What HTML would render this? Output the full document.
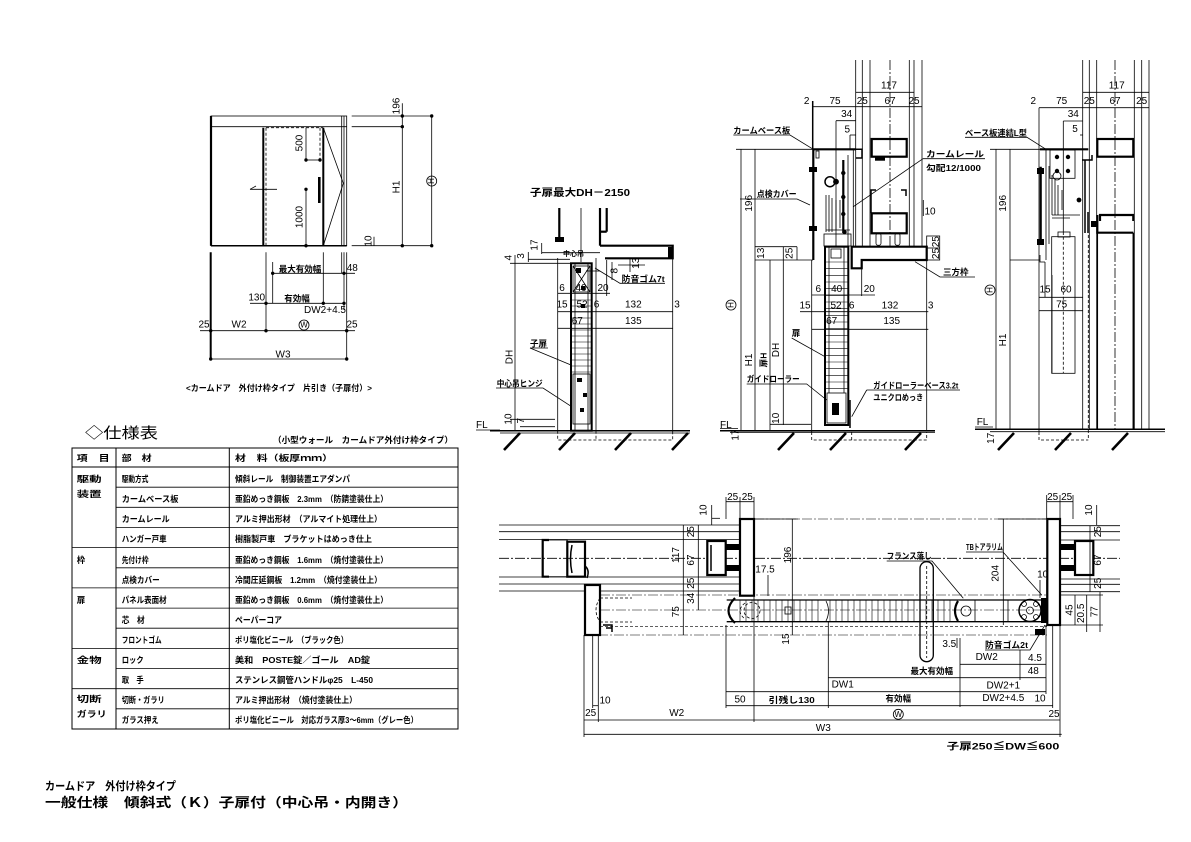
<!DOCTYPE html>
<html><head><meta charset="utf-8">
<style>
html,body{margin:0;padding:0;background:#fff;}
svg{display:block;}
text{font-family:"Liberation Sans","Noto Sans CJK JP",sans-serif;fill:#000;stroke:none;}
.n{font-size:10px;}
.j{font-size:8.5px;font-weight:bold;}
.c{text-anchor:middle;dominant-baseline:central;}
.k{stroke-width:2.2;}
.m{stroke-width:1.5;}
.d{stroke-dasharray:3,2;}
.dd{stroke-dasharray:10,2,2,2;}
.s{stroke-width:2.6;}
</style></head><body>
<svg width="1191" height="842" viewBox="0 0 1191 842" xmlns="http://www.w3.org/2000/svg">
<g stroke="#000" stroke-width="0.8" fill="none">

<!-- ===== Top-left elevation ===== -->
<rect x="211" y="116" width="135.7" height="129.7"/>
<line x1="211" y1="126.7" x2="346.7" y2="126.7"/>
<line x1="341.7" y1="116" x2="341.7" y2="245.7"/>
<line x1="344" y1="116" x2="344" y2="245.7"/>
<polyline points="323.3,127.7 343.3,183.3 323.3,245.7"/>
<line class="d" x1="266" y1="127.7" x2="266" y2="245.7"/>
<line class="d" x1="266" y1="127.7" x2="323" y2="127.7"/>
<line class="d" x1="320" y1="127.7" x2="320" y2="160"/>
<line x1="306" y1="160" x2="320" y2="160"/>
<line x1="306" y1="127.7" x2="306" y2="160"/>
<line x1="306" y1="189.3" x2="306" y2="245.7"/>
<line x1="250" y1="189.3" x2="277" y2="189.3"/>
<polyline points="256,186 250,189.3"/>
<line class="k" x1="211" y1="116" x2="211" y2="245.7"/>
<line x1="263.3" y1="127.7" x2="263.3" y2="245.7" stroke-width="2"/>
<line x1="323.3" y1="127.7" x2="323.3" y2="245.7" stroke-width="2"/>
<line class="s" x1="319.3" y1="177" x2="319.3" y2="203"/>
<line class="m" x1="211" y1="245.7" x2="346.7" y2="245.7"/>
<line x1="351.7" y1="116" x2="431.7" y2="116"/>
<line x1="351.7" y1="126.7" x2="402.3" y2="126.7"/>
<line x1="351.7" y1="245.7" x2="431.7" y2="245.7"/>
<line x1="402.3" y1="103.3" x2="402.3" y2="245.7"/>
<line x1="431.7" y1="116" x2="431.7" y2="245.7"/>
<line x1="374" y1="236.7" x2="374" y2="245.7"/>
<line x1="210.7" y1="252.3" x2="210.7" y2="359" stroke-width="2"/>
<line x1="266" y1="252.3" x2="266" y2="331"/>
<line x1="272.7" y1="262" x2="272.7" y2="303.3"/>
<line x1="323.3" y1="252.3" x2="323.3" y2="303.3"/>
<line x1="341.7" y1="252.3" x2="341.7" y2="273.3"/>
<line x1="344" y1="252.3" x2="344" y2="310"/>
<line x1="346.7" y1="252.3" x2="346.7" y2="359"/>
<line x1="272.7" y1="273.3" x2="355" y2="273.3"/>
<line x1="250" y1="303.3" x2="344" y2="303.3"/>
<line x1="200" y1="330.7" x2="355" y2="330.7"/>
<line x1="210.7" y1="359" x2="346.7" y2="359"/>
<circle cx="402.3" cy="116" r="1.3" fill="#000"/><circle cx="402.3" cy="126.7" r="1.3" fill="#000"/><circle cx="402.3" cy="245.7" r="1.3" fill="#000"/>
<circle cx="431.7" cy="116" r="1.3" fill="#000"/><circle cx="431.7" cy="245.7" r="1.3" fill="#000"/>
<circle cx="306" cy="160" r="1.3" fill="#000"/><circle cx="320" cy="160" r="1.3" fill="#000"/><circle cx="306" cy="189.3" r="1.3" fill="#000"/><circle cx="306" cy="245.7" r="1.3" fill="#000"/>
<circle cx="272.7" cy="273.3" r="1.3" fill="#000"/><circle cx="344" cy="273.3" r="1.3" fill="#000"/>
<circle cx="266" cy="303.3" r="1.3" fill="#000"/><circle cx="323.3" cy="303.3" r="1.3" fill="#000"/><circle cx="344" cy="303.3" r="1.3" fill="#000"/>
<circle cx="210.7" cy="330.7" r="1.3" fill="#000"/><circle cx="266" cy="330.7" r="1.3" fill="#000"/><circle cx="346.7" cy="330.7" r="1.3" fill="#000"/>
<circle cx="210.7" cy="359" r="1.3" fill="#000"/><circle cx="346.7" cy="359" r="1.3" fill="#000"/>
<circle cx="431.7" cy="181" r="5"/>
<circle cx="304" cy="325" r="5"/>

<!-- ===== Spec table ===== -->
<rect x="72" y="448" width="386" height="281" stroke-width="1"/>
<line x1="116" y1="448" x2="116" y2="729" stroke-width="1"/>
<line x1="229.3" y1="448" x2="229.3" y2="729" stroke-width="1"/>
<line x1="72" y1="467" x2="458" y2="467" stroke-width="1"/>
<line x1="116" y1="487.2" x2="458" y2="487.2"/>
<line x1="116" y1="507.3" x2="458" y2="507.3"/>
<line x1="116" y1="527.5" x2="458" y2="527.5"/>
<line x1="72" y1="547.6" x2="458" y2="547.6"/>
<line x1="116" y1="567.8" x2="458" y2="567.8"/>
<line x1="72" y1="587.9" x2="458" y2="587.9"/>
<line x1="116" y1="608.1" x2="458" y2="608.1"/>
<line x1="116" y1="628.2" x2="458" y2="628.2"/>
<line x1="72" y1="648.4" x2="458" y2="648.4"/>
<line x1="116" y1="668.5" x2="458" y2="668.5"/>
<line x1="72" y1="688.7" x2="458" y2="688.7"/>
<line x1="116" y1="708.8" x2="458" y2="708.8"/>

<!-- ===== Middle section 1 ===== -->
<line class="k" x1="559.3" y1="208" x2="559.3" y2="241.7"/>
<line x1="581" y1="208" x2="581" y2="262"/>
<line class="k" x1="600" y1="208" x2="600" y2="245.7"/>
<line class="k" x1="606.7" y1="208" x2="606.7" y2="231.7"/>
<line class="k" x1="600" y1="231.7" x2="606.7" y2="231.7"/>
<path class="k" d="M600,245.7 H672.7 V258.3 H605"/>
<rect x="668" y="247" width="4.7" height="11" fill="#000" stroke="none"/>
<rect x="555" y="237" width="9" height="5" fill="#000" stroke="none"/>
<line x1="515" y1="255" x2="515" y2="431"/>
<line x1="528.3" y1="252" x2="528.3" y2="262"/>
<line x1="541.7" y1="243" x2="541.7" y2="254"/>
<line x1="541.7" y1="252.7" x2="600" y2="252.7"/>
<line x1="528.3" y1="259.3" x2="570" y2="259.3"/>
<line x1="510" y1="263.3" x2="572" y2="263.3"/>
<line x1="510" y1="419.3" x2="555" y2="419.3"/>
<line x1="520" y1="426.7" x2="555" y2="426.7"/>
<line x1="557.7" y1="293.3" x2="610" y2="293.3"/>
<line x1="557.7" y1="311.7" x2="672.7" y2="311.7"/>
<line x1="557.7" y1="328.3" x2="672.7" y2="328.3"/>
<line x1="557.7" y1="258" x2="557.7" y2="430.7"/>
<line x1="596" y1="258" x2="596" y2="430.7"/>
<line x1="672.7" y1="258.3" x2="672.7" y2="430.7"/>
<line x1="606.7" y1="260" x2="606.7" y2="296"/>
<line x1="612" y1="262" x2="612" y2="280"/>
<line x1="618" y1="265" x2="645" y2="265"/>
<line x1="630" y1="258" x2="630" y2="272"/>
<path class="d" d="M557.7,430.7 V440 H672.7 V430.7 M596,430.7 V440"/>
<rect x="571" y="263.3" width="20.7" height="167.4" stroke-width="2"/>
<line x1="575" y1="263.3" x2="575" y2="430"/>
<line x1="588" y1="263.3" x2="588" y2="430"/>
<rect x="573" y="266" width="17" height="26"/>
<path d="M573,266 L590,292 M590,266 L573,292"/>
<g stroke-width="0.6">
<line x1="571" y1="300" x2="591.7" y2="300"/><line x1="571" y1="306" x2="591.7" y2="306"/><line x1="571" y1="312" x2="591.7" y2="312"/><line x1="571" y1="318" x2="591.7" y2="318"/><line x1="571" y1="324" x2="591.7" y2="324"/><line x1="571" y1="330" x2="591.7" y2="330"/><line x1="571" y1="336" x2="591.7" y2="336"/><line x1="571" y1="342" x2="591.7" y2="342"/><line x1="571" y1="348" x2="591.7" y2="348"/><line x1="571" y1="354" x2="591.7" y2="354"/><line x1="571" y1="360" x2="591.7" y2="360"/><line x1="571" y1="366" x2="591.7" y2="366"/><line x1="571" y1="372" x2="591.7" y2="372"/>
</g>
<rect x="573" y="374" width="17" height="50"/>
<rect x="576" y="268" width="5" height="5" fill="#000" stroke="none"/>
<rect x="581" y="286" width="4" height="4" fill="#000" stroke="none"/>
<rect x="581" y="304" width="4" height="4" fill="#000" stroke="none"/>
<rect x="577" y="378" width="5" height="4" fill="#000" stroke="none"/>
<rect x="583" y="393" width="4" height="4" fill="#000" stroke="none"/>
<rect x="580" y="408" width="4" height="4" fill="#000" stroke="none"/>
<line x1="586" y1="271" x2="600" y2="271"/>
<polyline points="595,268 620,283.3 665,283.3"/>
<polyline points="530,348 571,365"/>
<polyline points="496,388 543,388 571.7,406.7"/>
<polyline points="530,348 548,348"/>
<line class="m" x1="490" y1="430.7" x2="690" y2="430.7"/>
<line x1="500" y1="433" x2="690" y2="433"/>
<line x1="476" y1="430" x2="500" y2="430"/>
<line class="s" x1="520" y1="433" x2="504" y2="450"/>
<line class="s" x1="575" y1="433" x2="559" y2="450"/>
<line class="s" x1="631" y1="433" x2="615" y2="450"/>
<line class="s" x1="688" y1="433" x2="672" y2="450"/>

<!-- ===== Middle section 2 ===== -->
<line x1="855.7" y1="60" x2="855.7" y2="246.7"/>
<line x1="862.3" y1="60" x2="862.3" y2="246.7"/>
<line x1="870" y1="60" x2="870" y2="246.7"/>
<line class="dd" x1="890" y1="60" x2="890" y2="246.7"/>
<line x1="909.3" y1="60" x2="909.3" y2="246.7"/>
<line x1="914" y1="60" x2="914" y2="246.7"/>
<line x1="922" y1="60" x2="922" y2="246.7"/>
<line x1="855.7" y1="92.3" x2="914" y2="92.3"/>
<line x1="812.7" y1="106.7" x2="922" y2="106.7"/>
<line x1="836" y1="120.7" x2="855.7" y2="120.7"/>
<line x1="850" y1="135" x2="855.7" y2="135"/>
<line class="m" x1="812.7" y1="101" x2="812.7" y2="149.3"/>
<line x1="836" y1="120.7" x2="836" y2="246.7"/>
<line x1="850" y1="135" x2="850" y2="149"/>
<line class="k" x1="813.3" y1="149.3" x2="855.7" y2="149.3"/>
<line class="k" x1="813.3" y1="149.3" x2="813.3" y2="260"/>
<line x1="811.7" y1="260" x2="811.7" y2="432"/>
<line class="k" x1="843.3" y1="160" x2="843.3" y2="233"/>
<line x1="853.3" y1="149" x2="853.3" y2="246"/>
<line x1="848" y1="155" x2="848" y2="246"/>
<path class="m" d="M855.7,149.3 H862 V158 H856"/>
<rect x="816" y="151" width="3" height="7"/>
<rect x="809" y="167" width="8" height="5" fill="#000" stroke="none"/>
<rect x="809" y="226" width="8" height="5" fill="#000" stroke="none"/>
<circle cx="830" cy="181.7" r="5" stroke-width="1.5"/>
<circle cx="836" cy="181.7" r="2.5" fill="#000"/>
<path d="M826,195 V232 M829,195 V232 M832,198 V232 M836,200 V230 M840,200 V228 M826,230 H850"/>
<rect x="824" y="234" width="27" height="12"/>
<circle cx="843.3" cy="173" r="1.8" fill="#000"/><circle cx="843.3" cy="197" r="1.8" fill="#000"/><circle cx="843.3" cy="214" r="1.8" fill="#000"/><circle cx="844.5" cy="232" r="1.8" fill="#000"/>
<rect class="k" x="871.7" y="139" width="35" height="17.7"/>
<rect class="k" x="871.7" y="213.3" width="35" height="20"/>
<path class="m" d="M876,190 H871 V213.3 M901,190 H906 V196"/>
<rect x="876" y="233.3" width="5" height="12" rx="2"/><rect x="895" y="233.3" width="5" height="12" rx="2"/>
<rect x="875" y="156.7" width="10" height="4" fill="#000" stroke="none"/>
<line x1="923.3" y1="200" x2="923.3" y2="216"/>
<path class="k" d="M851.7,246.7 H926.7 V260 H861.7 V268.3 H851.7 Z"/>
<rect x="926.7" y="236" width="13" height="24"/>
<line x1="926.7" y1="248" x2="939.7" y2="248"/>
<line x1="926.7" y1="260" x2="926.7" y2="430.7"/>
<line x1="861.7" y1="268.3" x2="861.7" y2="296"/>
<line x1="741" y1="149.3" x2="741" y2="430"/>
<line x1="755" y1="149.3" x2="755" y2="430"/>
<line x1="770" y1="260" x2="770" y2="430"/>
<line x1="783.3" y1="246.7" x2="783.3" y2="425"/>
<line x1="736" y1="149.3" x2="813.3" y2="149.3"/>
<line x1="755" y1="246.7" x2="797" y2="246.7"/>
<line x1="755" y1="260" x2="813" y2="260"/>
<line x1="797" y1="246.7" x2="797" y2="260"/>
<line x1="770" y1="424.3" x2="811" y2="424.3"/>
<line x1="811.7" y1="295" x2="875" y2="295"/>
<line x1="800" y1="311.7" x2="928.3" y2="311.7"/>
<line x1="811.7" y1="329.3" x2="928.3" y2="329.3"/>
<rect x="825" y="246.7" width="23.3" height="178.3" stroke-width="2"/>
<g stroke-width="0.6">
<line x1="825" y1="262" x2="848.3" y2="262"/><line x1="825" y1="268.7" x2="848.3" y2="268.7"/><line x1="825" y1="275.4" x2="848.3" y2="275.4"/><line x1="825" y1="282" x2="848.3" y2="282"/><line x1="825" y1="288.7" x2="848.3" y2="288.7"/><line x1="825" y1="295.4" x2="848.3" y2="295.4"/><line x1="825" y1="302" x2="848.3" y2="302"/><line x1="825" y1="308.7" x2="848.3" y2="308.7"/><line x1="825" y1="315.4" x2="848.3" y2="315.4"/><line x1="825" y1="322" x2="848.3" y2="322"/><line x1="825" y1="328.7" x2="848.3" y2="328.7"/><line x1="825" y1="335.4" x2="848.3" y2="335.4"/><line x1="825" y1="342" x2="848.3" y2="342"/><line x1="825" y1="348.7" x2="848.3" y2="348.7"/><line x1="825" y1="355.4" x2="848.3" y2="355.4"/><line x1="825" y1="362" x2="848.3" y2="362"/><line x1="825" y1="368.7" x2="848.3" y2="368.7"/><line x1="825" y1="375.4" x2="848.3" y2="375.4"/><line x1="825" y1="382" x2="848.3" y2="382"/><line x1="825" y1="388.7" x2="848.3" y2="388.7"/>
</g>
<line x1="829" y1="246.7" x2="829" y2="393"/>
<line x1="844" y1="246.7" x2="844" y2="393"/>
<rect x="827" y="393" width="19" height="30"/>
<rect x="832" y="403" width="7" height="12" fill="#000" stroke="none"/>
<line class="m" x1="850" y1="400" x2="850" y2="428"/>
<rect x="831" y="249" width="10" height="9"/>
<path d="M791.7,338 L825,356.7 M746.7,384 H806.7 L826.7,400 M866.7,390 H960 M866.7,390 L851.7,416.7 M733.3,135 H790 L813.3,149.3 M740,199 H797 L810,205 M923,158.7 H985 M923,158.7 L853.3,206.7 M915,261.7 L940,277 H975"/>
<line class="m" x1="720" y1="430.7" x2="935" y2="430.7"/>
<line x1="730" y1="432.3" x2="935" y2="432.3"/>
<line x1="720" y1="428.5" x2="738" y2="428.5"/>
<path class="d" d="M811.7,432 V440 H926.7 V432 M851.7,432 V440"/>
<line class="s" x1="794" y1="433" x2="778" y2="450"/>
<line class="s" x1="846" y1="433" x2="830" y2="450"/>
<line class="s" x1="921" y1="433" x2="905" y2="450"/>
<circle cx="731" cy="305" r="5"/>

<!-- ===== Right section ===== -->
<line x1="1082.7" y1="60" x2="1082.7" y2="430"/>
<line x1="1089.3" y1="60" x2="1089.3" y2="430"/>
<line x1="1096.7" y1="60" x2="1096.7" y2="430"/>
<line class="dd" x1="1115" y1="60" x2="1115" y2="430"/>
<line x1="1134.3" y1="60" x2="1134.3" y2="430"/>
<line x1="1141.7" y1="60" x2="1141.7" y2="430"/>
<line x1="1149" y1="60" x2="1149" y2="430"/>
<line x1="1082.7" y1="92.3" x2="1149" y2="92.3"/>
<line x1="1039" y1="107.7" x2="1149" y2="107.7"/>
<line x1="1063.3" y1="121" x2="1082.7" y2="121"/>
<line x1="1080" y1="135" x2="1082.7" y2="135"/>
<line x1="1063.3" y1="121" x2="1063.3" y2="235"/>
<line x1="1039" y1="107.7" x2="1039" y2="432"/>
<line x1="1046" y1="149" x2="1046" y2="260"/>
<line class="k" x1="1040" y1="149.3" x2="1088.3" y2="149.3"/>
<rect x="1050" y="150" width="25" height="28.3"/>
<circle cx="1057" cy="157" r="1.8" fill="#000"/><circle cx="1068" cy="157" r="1.8" fill="#000"/><circle cx="1057" cy="171" r="1.8" fill="#000"/><circle cx="1068" cy="171" r="1.8" fill="#000"/>
<line class="k" x1="1040.7" y1="166.7" x2="1040.7" y2="241.7"/>
<rect x="1037" y="168" width="7" height="6" fill="#000" stroke="none"/>
<rect x="1037" y="239" width="7" height="6" fill="#000" stroke="none"/>
<line x1="1049" y1="166" x2="1049" y2="244"/>
<path d="M1052,175 V215 M1055,180 V215 M1058,185 V215 M1062,190 V210 M1052,215 H1080 M1052,218 H1070"/>
<circle cx="1057" cy="176" r="4"/>
<rect x="1051.7" y="236.7" width="23.3" height="136.6"/>
<rect x="1058" y="232" width="12" height="5"/>
<line class="d" x1="1063.3" y1="236.7" x2="1063.3" y2="373"/>
<line class="m" x1="1085" y1="160" x2="1085" y2="233"/>
<path class="m" d="M1082,160 H1092 V155 M1088,212 V233"/>
<circle cx="1079" cy="200" r="2" fill="#000"/>
<rect class="k" x="1097.3" y="139" width="36" height="17.7"/>
<path class="k" d="M1100,221 V215 H1133.3 V221 M1097.3,215 V232.7 H1133.3"/>
<rect x="1091" y="221" width="6" height="6" fill="#000" stroke="none"/>
<line class="m" x1="1097.3" y1="232.7" x2="1097.3" y2="430"/>
<line class="m" x1="1133.3" y1="232.7" x2="1133.3" y2="430"/>
<line class="d" x1="1088.3" y1="235" x2="1088.3" y2="440"/>
<line x1="996" y1="149.3" x2="996" y2="430"/>
<line x1="1010" y1="149.3" x2="1010" y2="430"/>
<line x1="990" y1="149.3" x2="1040" y2="149.3"/>
<line x1="1010" y1="260" x2="1040" y2="260"/>
<path d="M1040,255 V262 H1045"/>
<line x1="1039" y1="297.3" x2="1082.7" y2="297.3"/>
<line x1="1039" y1="310.7" x2="1082.7" y2="310.7"/>
<line x1="1045" y1="262" x2="1045" y2="297"/>
<line x1="1052" y1="275" x2="1052" y2="373"/>
<path d="M965,137.3 H1027 L1046,149.3"/>
<line class="m" x1="975" y1="429.3" x2="1165" y2="429.3"/>
<line x1="990" y1="431.7" x2="1165" y2="431.7"/>
<line x1="975" y1="427" x2="993" y2="427"/>
<path class="d" d="M1039,432 V440 H1088.3"/>
<line class="s" x1="1014" y1="433" x2="998" y2="450"/>
<line class="s" x1="1071" y1="433" x2="1055" y2="450"/>
<line class="s" x1="1128" y1="433" x2="1112" y2="450"/>
<circle cx="990" cy="290" r="5"/>

<!-- ===== Bottom plan ===== -->
<line x1="499" y1="525" x2="740" y2="525"/>
<line x1="499" y1="531.7" x2="740" y2="531.7"/>
<line x1="499" y1="539.5" x2="740" y2="539.5"/>
<line x1="499" y1="577" x2="740" y2="577"/>
<line x1="499" y1="584" x2="740" y2="584"/>
<line x1="499" y1="591" x2="740" y2="591"/>
<line x1="1060" y1="525.7" x2="1120" y2="525.7"/>
<line x1="1060" y1="531.7" x2="1120" y2="531.7"/>
<line x1="1060" y1="540" x2="1120" y2="540"/>
<line x1="1060" y1="579" x2="1120" y2="579"/>
<line x1="1060" y1="584.3" x2="1120" y2="584.3"/>
<line x1="1060" y1="591.7" x2="1120" y2="591.7"/>
<line class="dd" x1="499" y1="558.3" x2="1120" y2="558.3"/>
<line class="dd" x1="754" y1="519" x2="1047" y2="519" stroke-width="0.6"/>
<line class="dd" x1="600" y1="595" x2="1047" y2="595" stroke-width="0.6"/>
<line class="dd" x1="600" y1="610" x2="1047" y2="610" stroke-width="0.6"/>
<line class="d" x1="600" y1="626.7" x2="1047" y2="626.7" stroke-width="0.6"/>
<line class="dd" x1="598" y1="635" x2="1047" y2="635" stroke-width="0.6"/>
<path class="k" d="M549,540 H542.7 V576.7 H549"/>
<rect x="542.7" y="540" width="24.6" height="36.7" stroke-width="0.8"/>
<rect class="k" x="567.3" y="541.7" width="17.7" height="35"/>
<path class="m" d="M572,545 Q569,559 572,573"/>
<path class="m" d="M585,566 Q590,570 587,578"/>
<rect class="k" x="585" y="585" width="15" height="50" fill="#fff"/>
<path class="d" d="M600,598 Q592,610 600,622 M600,598 H632 M600,622 H632"/>
<path class="m" d="M603,625 H612 V632 M606,628 H612"/>
<rect class="k" x="707.3" y="541" width="18.4" height="34" fill="#fff"/>
<path class="m" d="M711,545 V571"/>
<rect x="725.7" y="544" width="14.3" height="6" fill="#000" stroke="none"/>
<rect x="725.7" y="565" width="14.3" height="6" fill="#000" stroke="none"/>
<rect class="k" x="740" y="519" width="14" height="76.7" fill="#fff"/>
<rect class="k" x="1075" y="541" width="18.3" height="34" fill="#fff"/>
<rect x="1060" y="544" width="15" height="6" fill="#000" stroke="none"/>
<rect x="1060" y="565" width="15" height="6" fill="#000" stroke="none"/>
<rect class="k" x="1047.3" y="519" width="12.7" height="106" fill="#fff"/>
<rect x="920" y="561.7" width="13.3" height="100" rx="6.6" stroke-width="1.3"/>
<line class="d" x1="926.7" y1="566" x2="926.7" y2="658"/>
<!-- door panel -->
<line x1="726.7" y1="600" x2="1048" y2="600" stroke-width="1.3"/>
<line x1="726.7" y1="621.7" x2="1048" y2="621.7" stroke-width="1.3"/>
<path class="k" d="M735,598 Q722,611 735,623"/>
<path d="M826,601 Q831,611 826,621"/>
<path class="d" d="M745,603 Q735,611 745,619"/>
<circle cx="752" cy="610.5" r="8" class="d"/>
<rect x="785" y="607" width="6" height="7"/>
<g stroke-width="0.6">
<line x1="740" y1="600" x2="740" y2="621.7"/><line x1="746" y1="600" x2="746" y2="621.7"/><line x1="752" y1="600" x2="752" y2="621.7"/><line x1="758" y1="600" x2="758" y2="621.7"/><line x1="764" y1="600" x2="764" y2="621.7"/><line x1="770" y1="600" x2="770" y2="621.7"/><line x1="776" y1="600" x2="776" y2="621.7"/><line x1="782" y1="600" x2="782" y2="621.7"/><line x1="788" y1="600" x2="788" y2="621.7"/><line x1="794" y1="600" x2="794" y2="621.7"/><line x1="800" y1="600" x2="800" y2="621.7"/><line x1="806" y1="600" x2="806" y2="621.7"/><line x1="812" y1="600" x2="812" y2="621.7"/><line x1="818" y1="600" x2="818" y2="621.7"/><line x1="830" y1="600" x2="830" y2="621.7"/><line x1="836" y1="600" x2="836" y2="621.7"/><line x1="842" y1="600" x2="842" y2="621.7"/><line x1="848" y1="600" x2="848" y2="621.7"/><line x1="854" y1="600" x2="854" y2="621.7"/><line x1="860" y1="600" x2="860" y2="621.7"/><line x1="866" y1="600" x2="866" y2="621.7"/><line x1="872" y1="600" x2="872" y2="621.7"/><line x1="878" y1="600" x2="878" y2="621.7"/><line x1="884" y1="600" x2="884" y2="621.7"/><line x1="890" y1="600" x2="890" y2="621.7"/><line x1="896" y1="600" x2="896" y2="621.7"/><line x1="902" y1="600" x2="902" y2="621.7"/><line x1="908" y1="600" x2="908" y2="621.7"/><line x1="914" y1="600" x2="914" y2="621.7"/><line x1="920" y1="600" x2="920" y2="621.7"/><line x1="926" y1="600" x2="926" y2="621.7"/><line x1="932" y1="600" x2="932" y2="621.7"/><line x1="938" y1="600" x2="938" y2="621.7"/><line x1="944" y1="600" x2="944" y2="621.7"/><line x1="950" y1="600" x2="950" y2="621.7"/>
</g>
<path class="k" d="M958,601 Q952,611 958,621"/>
<circle cx="966" cy="611" r="5"/>
<line x1="975" y1="600" x2="975" y2="621.7"/>
<line x1="1008" y1="600" x2="1008" y2="621.7"/>
<circle cx="1030" cy="610.5" r="11" stroke-width="1.5"/>
<circle cx="1030" cy="610.5" r="3.5"/><circle cx="1024" cy="604" r="2.5"/><circle cx="1036" cy="604" r="2.5"/><circle cx="1024" cy="617" r="2.5"/><circle cx="1036" cy="617" r="2.5"/>
<rect x="1041" y="598" width="6" height="25" fill="#000" stroke="none"/>
<rect x="1035" y="629" width="10" height="6" fill="#000" stroke="none"/>
<!-- plan dims -->
<line x1="726" y1="501.7" x2="754" y2="501.7"/>
<line x1="726" y1="497" x2="726" y2="519"/>
<line x1="740" y1="497" x2="740" y2="519"/>
<line x1="754" y1="497" x2="754" y2="519"/>
<line x1="711.7" y1="505" x2="711.7" y2="525"/>
<line x1="711.7" y1="518.3" x2="720" y2="518.3"/>
<line x1="1046.7" y1="501.7" x2="1073" y2="501.7"/>
<line x1="1046.7" y1="495" x2="1046.7" y2="519"/>
<line x1="1060" y1="495" x2="1060" y2="519"/>
<line x1="1073" y1="495" x2="1073" y2="519"/>
<line x1="1096.7" y1="505" x2="1096.7" y2="525"/>
<line x1="683.3" y1="525" x2="683.3" y2="635"/>
<line x1="698.3" y1="525" x2="698.3" y2="610"/>
<line x1="792.3" y1="519" x2="792.3" y2="635"/>
<line x1="754" y1="519" x2="798" y2="519"/>
<line x1="768" y1="575" x2="768" y2="596"/>
<line x1="1003.3" y1="519" x2="1003.3" y2="625"/>
<line x1="998" y1="519" x2="1047" y2="519"/>
<line x1="1090" y1="525.7" x2="1090" y2="591.7"/>
<line x1="1100" y1="591.7" x2="1100" y2="632"/>
<line x1="1086.7" y1="595" x2="1086.7" y2="632"/>
<line x1="1075" y1="595" x2="1075" y2="625"/>
<line x1="1060" y1="595" x2="1103" y2="595"/>
<line x1="1060" y1="625" x2="1103" y2="625"/>
<line x1="1040" y1="580" x2="1040" y2="598"/>
<line x1="1046.7" y1="580" x2="1046.7" y2="598"/>
<line x1="584" y1="635" x2="584" y2="737"/>
<line x1="592.7" y1="635" x2="592.7" y2="708"/>
<line x1="598.3" y1="635" x2="598.3" y2="722"/>
<line x1="726" y1="625" x2="726" y2="708"/>
<line x1="754" y1="596" x2="754" y2="722"/>
<line x1="828.3" y1="622" x2="828.3" y2="708"/>
<line x1="960" y1="638" x2="960" y2="707"/>
<line x1="957" y1="638" x2="957" y2="648"/>
<line x1="1020" y1="650" x2="1020" y2="680"/>
<line x1="1046" y1="625" x2="1046" y2="694"/>
<line x1="1052.7" y1="625" x2="1052.7" y2="708"/>
<line x1="1060" y1="625" x2="1060" y2="737"/>
<line x1="960" y1="664.3" x2="1046" y2="664.3"/>
<line x1="828.3" y1="677.7" x2="1046" y2="677.7"/>
<line x1="726" y1="691.7" x2="1046" y2="691.7"/>
<line x1="726" y1="705.7" x2="1052.7" y2="705.7"/>
<line x1="592.7" y1="705.7" x2="598.3" y2="705.7"/>
<line x1="584" y1="720" x2="1060" y2="720"/>
<line x1="584" y1="734.3" x2="1061.7" y2="734.3"/>
<path d="M886.7,561 H932 L963.3,598.3 M966,552 H1003 L1041.7,595 M985,650 H1030 L1045,625"/>
<circle cx="898.3" cy="714.3" r="5"/>
</g>

<!-- ===== TEXT ===== -->
<g class="n">
<!-- top-left -->
<text class="c" transform="translate(397,106) rotate(-90)">196</text>
<text class="c" transform="translate(397,187) rotate(-90)">H1</text>
<text class="c" transform="translate(431.7,181) rotate(-90)" font-size="8">H</text>
<text class="c" transform="translate(300,143) rotate(-90)">500</text>
<text class="c" transform="translate(300,217) rotate(-90)">1000</text>
<text class="c" transform="translate(369,241) rotate(-90)">10</text>
<text class="c" x="352.3" y="268.5">48</text>
<text class="c" x="256.7" y="298">130</text>
<text class="c" x="325" y="310.5">DW2+4.5</text>
<text class="c" x="204" y="325">25</text>
<text class="c" x="239" y="325">W2</text>
<text class="c" x="304" y="325" font-size="8">W</text>
<text class="c" x="352" y="325">25</text>
<text class="c" x="283" y="355">W3</text>

<!-- middle 1 -->
<text class="c" transform="translate(509,257.7) rotate(-90)">4</text>
<text class="c" transform="translate(521.7,256) rotate(-90)">3</text>
<text class="c" transform="translate(535,245) rotate(-90)">17</text>
<text class="c" transform="translate(615,270.7) rotate(-90)">8</text>
<text class="c" transform="translate(636.7,263.3) rotate(-90)">13</text>
<text class="c" x="562" y="288.5">6</text>
<text class="c" x="581" y="288.5">40</text>
<text class="c" x="603" y="288.5">20</text>
<text class="c" x="562" y="305">15</text>
<text class="c" x="582" y="305">52</text>
<text class="c" x="596.5" y="305">6</text>
<text class="c" x="633.3" y="305">132</text>
<text class="c" x="677" y="305">3</text>
<text class="c" x="577.3" y="321.7">67</text>
<text class="c" x="633.3" y="321.7">135</text>
<text class="c" transform="translate(510,357) rotate(-90)">DH</text>
<text class="c" transform="translate(509,419) rotate(-90)">10</text>
<text class="c" transform="translate(521.7,420.7) rotate(-90)">7</text>
<text x="476" y="428">FL</text>

<!-- middle 2 -->
<text class="c" x="889" y="86">117</text>
<text class="c" x="806.7" y="101.5">2</text>
<text class="c" x="835" y="101.5">75</text>
<text class="c" x="862.3" y="101.5">25</text>
<text class="c" x="890" y="101.5">67</text>
<text class="c" x="914" y="101.5">25</text>
<text class="c" x="846.7" y="114.3">34</text>
<text class="c" x="847.3" y="130">5</text>
<text class="c" x="930" y="212">10</text>
<text class="c" transform="translate(749.3,203.3) rotate(-90)">196</text>
<text class="c" transform="translate(761.7,253.3) rotate(-90)">13</text>
<text class="c" transform="translate(790,253.3) rotate(-90)">25</text>
<text class="c" transform="translate(936.7,241.7) rotate(-90)">25</text>
<text class="c" transform="translate(936.7,253.5) rotate(-90)">25</text>
<text class="c" transform="translate(731,305) rotate(-90)" font-size="8">H</text>
<text class="c" transform="translate(749.3,360) rotate(-90)">H1</text>
<text class="c" transform="translate(776.7,350) rotate(-90)">DH</text>
<text class="c" x="818.3" y="289.3">6</text>
<text class="c" x="836.7" y="289.3">40</text>
<text class="c" x="869.3" y="289.3">20</text>
<text class="c" x="805" y="306">15</text>
<text class="c" x="836" y="306">52</text>
<text class="c" x="851.7" y="306">6</text>
<text class="c" x="890" y="306">132</text>
<text class="c" x="930.7" y="306">3</text>
<text class="c" x="831.7" y="321.7">67</text>
<text class="c" x="891.7" y="321.7">135</text>
<text class="c" transform="translate(776.7,418.3) rotate(-90)">10</text>
<text class="c" transform="translate(736,435) rotate(-90)">17</text>
<text x="720" y="428">FL</text>

<!-- right -->
<text class="c" x="1116.7" y="86">117</text>
<text class="c" x="1033.3" y="101.7">2</text>
<text class="c" x="1061.7" y="101.7">75</text>
<text class="c" x="1089.3" y="101.7">25</text>
<text class="c" x="1115" y="101.7">67</text>
<text class="c" x="1141.7" y="101.7">25</text>
<text class="c" x="1073.3" y="114.3">34</text>
<text class="c" x="1075" y="129.3">5</text>
<text class="c" transform="translate(1003.3,203.3) rotate(-90)">196</text>
<text class="c" transform="translate(990,290) rotate(-90)" font-size="8">H</text>
<text class="c" transform="translate(1003.3,340) rotate(-90)">H1</text>
<text class="c" x="1045" y="290">15</text>
<text class="c" x="1066" y="290">60</text>
<text class="c" x="1061.7" y="305">75</text>
<text class="c" transform="translate(991.7,438.3) rotate(-90)">17</text>
<text x="976.7" y="425">FL</text>

<!-- plan -->
<text class="c" x="732.7" y="497.7">25</text>
<text class="c" x="747.3" y="497.7">25</text>
<text class="c" transform="translate(704,510) rotate(-90)">10</text>
<text class="c" x="1052.7" y="497.7">25</text>
<text class="c" x="1066.7" y="497.7">25</text>
<text class="c" transform="translate(1089.3,510) rotate(-90)">10</text>
<text class="c" transform="translate(676.7,555) rotate(-90)">117</text>
<text class="c" transform="translate(676.7,611.7) rotate(-90)">75</text>
<text class="c" transform="translate(691.7,531.7) rotate(-90)">25</text>
<text class="c" transform="translate(691.7,560) rotate(-90)">67</text>
<text class="c" transform="translate(691.7,583.3) rotate(-90)">25</text>
<text class="c" transform="translate(691.7,598.3) rotate(-90)">34</text>
<text class="c" transform="translate(788.3,555) rotate(-90)">196</text>
<text class="c" x="765" y="570">17.5</text>
<text class="c" transform="translate(786.7,639) rotate(-90)">15</text>
<text class="c" transform="translate(996,573.3) rotate(-90)">204</text>
<text class="c" x="1042.7" y="575">10</text>
<text class="c" transform="translate(1070,610) rotate(-90)">45</text>
<text class="c" transform="translate(1081.7,613.3) rotate(-90)">20.5</text>
<text class="c" transform="translate(1095,611.7) rotate(-90)">77</text>
<text class="c" transform="translate(1098.3,531.7) rotate(-90)">25</text>
<text class="c" transform="translate(1098.3,560) rotate(-90)">67</text>
<text class="c" transform="translate(1098.3,583.3) rotate(-90)">25</text>
<text class="c" x="949.3" y="644.3">3.5</text>
<text class="c" x="986.7" y="657.7">DW2</text>
<text class="c" x="1035" y="658.3">4.5</text>
<text class="c" x="1033.3" y="671.7">48</text>
<text class="c" x="842.7" y="685">DW1</text>
<text class="c" x="1003.3" y="686">DW2+1</text>
<text class="c" x="740" y="700">50</text>
<text class="c" x="1003.3" y="698.3">DW2+4.5</text>
<text class="c" x="1040" y="699">10</text>
<text class="c" x="605" y="701">10</text>
<text class="c" x="590.7" y="713.3">25</text>
<text class="c" x="676.7" y="713.3">W2</text>
<text class="c" x="898.3" y="714.3" font-size="8">W</text>
<text class="c" x="1054" y="714.3">25</text>
<text class="c" x="823.3" y="728.3">W3</text>
</g>

<g class="j">
<!-- top-left JP -->
<text class="c" x="300" y="269" font-size="8.5">最大有効幅</text>
<text class="c" x="297" y="298.5" font-size="8.5">有効幅</text>
<text x="186" y="391" font-size="8.5" textLength="186" lengthAdjust="spacingAndGlyphs">&lt;カームドア　外付け枠タイプ　片引き（子扉付）&gt;</text>
<!-- middle 1 -->
<text x="530" y="196" font-size="10" textLength="100" lengthAdjust="spacingAndGlyphs">子扉最大DH－2150</text>
<text x="621.7" y="282" textLength="43" lengthAdjust="spacingAndGlyphs">防音ゴム7t</text>
<text x="530" y="346.5">子扉</text>
<text x="496.7" y="386.5" textLength="46" lengthAdjust="spacingAndGlyphs">中心吊ヒンジ</text>
<text x="563" y="256" font-size="7">中心吊</text>
<!-- middle 2 -->
<text x="733.3" y="133.5" textLength="57" lengthAdjust="spacingAndGlyphs">カームベース板</text>
<text x="756.7" y="197" textLength="40" lengthAdjust="spacingAndGlyphs">点検カバー</text>
<text x="926" y="157" textLength="58" lengthAdjust="spacingAndGlyphs">カームレール</text>
<text x="926" y="171" textLength="55" lengthAdjust="spacingAndGlyphs">勾配12/1000</text>
<text x="943" y="275">三方枠</text>
<text x="791.7" y="336">扉</text>
<text class="c" transform="translate(763.3,360) rotate(-90)">扉H</text>
<text x="746.7" y="382" textLength="53" lengthAdjust="spacingAndGlyphs">ガイドローラー</text>
<text x="873.3" y="388.5" textLength="85" lengthAdjust="spacingAndGlyphs">ガイドローラーベース3.2t</text>
<text x="873.3" y="400.5" textLength="50" lengthAdjust="spacingAndGlyphs">ユニクロめっき</text>
<!-- right -->
<text x="965" y="136" textLength="62" lengthAdjust="spacingAndGlyphs">ベース板連結L型</text>
<!-- plan -->
<text x="886.7" y="559" textLength="45" lengthAdjust="spacingAndGlyphs">フランス落し</text>
<text x="966" y="550" textLength="37" lengthAdjust="spacingAndGlyphs">TBトアラリム</text>
<text x="985" y="648" textLength="43" lengthAdjust="spacingAndGlyphs">防音ゴム2t</text>
<text class="c" x="931.7" y="671">最大有効幅</text>
<text class="c" x="898.3" y="698.3">有効幅</text>
<text class="c" x="791.7" y="700" textLength="46" lengthAdjust="spacingAndGlyphs">引残し130</text>
<text x="946.7" y="749.5" font-size="9.5" textLength="112.6" lengthAdjust="spacingAndGlyphs">子扉250≦DW≦600</text>

<!-- spec table -->
<text x="85" y="438" font-size="15" font-weight="normal" textLength="73" lengthAdjust="spacingAndGlyphs">◇仕様表</text>
<text x="273" y="443" font-size="8.5" textLength="180" lengthAdjust="spacingAndGlyphs">（小型ウォール　カームドア外付け枠タイプ）</text>
<text x="76.7" y="461" textLength="33" lengthAdjust="spacingAndGlyphs">項　目</text>
<text x="121.7" y="461" textLength="30" lengthAdjust="spacingAndGlyphs">部　材</text>
<text x="235" y="461" textLength="98" lengthAdjust="spacingAndGlyphs">材　料（板厚ｍｍ）</text>
<text x="76.7" y="482" textLength="25" lengthAdjust="spacingAndGlyphs">駆動</text>
<text x="76.7" y="497" textLength="25" lengthAdjust="spacingAndGlyphs">装置</text>
<text x="76.7" y="563">枠</text>
<text x="76.7" y="603">扉</text>
<text x="76.7" y="663" textLength="25" lengthAdjust="spacingAndGlyphs">金物</text>
<text x="76.7" y="702" textLength="25" lengthAdjust="spacingAndGlyphs">切断</text>
<text x="76.7" y="717" textLength="30" lengthAdjust="spacingAndGlyphs">ガラリ</text>

<text x="121.7" y="482" textLength="26.7" lengthAdjust="spacingAndGlyphs">駆動方式</text>
<text x="121.7" y="502" textLength="56.7" lengthAdjust="spacingAndGlyphs">カームベース板</text>
<text x="121.7" y="522" textLength="48" lengthAdjust="spacingAndGlyphs">カームレール</text>
<text x="121.7" y="542" textLength="45" lengthAdjust="spacingAndGlyphs">ハンガー戸車</text>
<text x="121.7" y="563" textLength="27" lengthAdjust="spacingAndGlyphs">先付け枠</text>
<text x="121.7" y="583" textLength="38" lengthAdjust="spacingAndGlyphs">点検カバー</text>
<text x="121.7" y="603" textLength="45" lengthAdjust="spacingAndGlyphs">パネル表面材</text>
<text x="121.7" y="623" textLength="23" lengthAdjust="spacingAndGlyphs">芯　材</text>
<text x="121.7" y="643" textLength="40" lengthAdjust="spacingAndGlyphs">フロントゴム</text>
<text x="121.7" y="663" textLength="22" lengthAdjust="spacingAndGlyphs">ロック</text>
<text x="121.7" y="683" textLength="22" lengthAdjust="spacingAndGlyphs">取　手</text>
<text x="121.7" y="703" textLength="43" lengthAdjust="spacingAndGlyphs">切断・ガラリ</text>
<text x="121.7" y="723" textLength="37" lengthAdjust="spacingAndGlyphs">ガラス押え</text>

<text x="235" y="482" textLength="115" lengthAdjust="spacingAndGlyphs">傾斜レール　制御装置エアダンパ</text>
<text x="235" y="502" textLength="153" lengthAdjust="spacingAndGlyphs">亜鉛めっき鋼板　2.3mm　（防錆塗装仕上）</text>
<text x="235" y="522" textLength="147" lengthAdjust="spacingAndGlyphs">アルミ押出形材　（アルマイト処理仕上）</text>
<text x="235" y="542" textLength="137" lengthAdjust="spacingAndGlyphs">樹脂製戸車　ブラケットはめっき仕上</text>
<text x="235" y="563" textLength="153" lengthAdjust="spacingAndGlyphs">亜鉛めっき鋼板　1.6mm　（焼付塗装仕上）</text>
<text x="235" y="583" textLength="147" lengthAdjust="spacingAndGlyphs">冷間圧延鋼板　1.2mm　（焼付塗装仕上）</text>
<text x="235" y="603" textLength="153" lengthAdjust="spacingAndGlyphs">亜鉛めっき鋼板　0.6mm　（焼付塗装仕上）</text>
<text x="235" y="623" textLength="47" lengthAdjust="spacingAndGlyphs">ペーパーコア</text>
<text x="235" y="643" textLength="113" lengthAdjust="spacingAndGlyphs">ポリ塩化ビニール　（ブラック色）</text>
<text x="235" y="663" textLength="135" lengthAdjust="spacingAndGlyphs">美和　POSTE錠／ゴール　AD錠</text>
<text x="235" y="683" textLength="138" lengthAdjust="spacingAndGlyphs">ステンレス鋼管ハンドルφ25　L-450</text>
<text x="235" y="703" textLength="122" lengthAdjust="spacingAndGlyphs">アルミ押出形材　（焼付塗装仕上）</text>
<text x="235" y="723" textLength="183" lengthAdjust="spacingAndGlyphs">ポリ塩化ビニール　対応ガラス厚3～6mm（グレー色）</text>

<!-- bottom titles -->
<text x="45" y="790" font-size="11.5" textLength="131" lengthAdjust="spacingAndGlyphs">カームドア　外付け枠タイプ</text>
<text x="45" y="807" font-size="13" textLength="363" lengthAdjust="spacingAndGlyphs">一般仕様　傾斜式（Ｋ）子扉付（中心吊・内開き）</text>
</g>
</svg>
</body></html>
